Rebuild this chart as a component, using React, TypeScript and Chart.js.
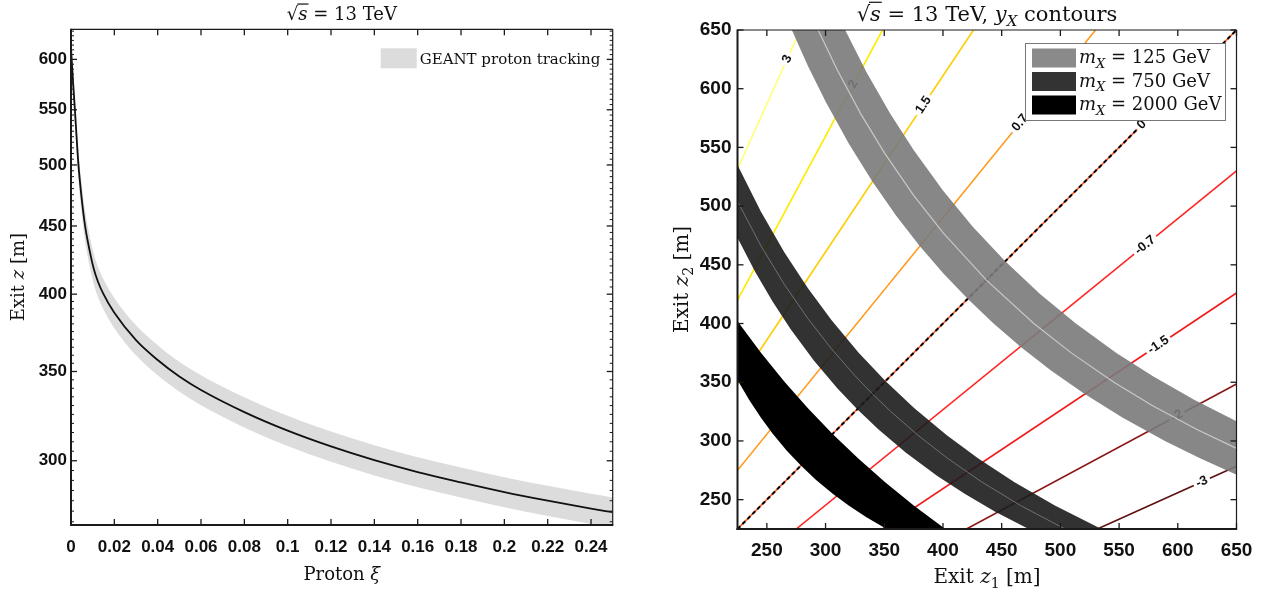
import React, { useEffect, useRef } from 'react';
import { Chart, registerables } from 'chart.js';
Chart.register(...registerables);

// ---------------- Left panel data ----------------
const xiValues = [0, 0.0003, 0.001, 0.0018, 0.0026, 0.0034, 0.0048, 0.0065, 0.0085, 0.0105, 0.0125, 0.015, 0.02, 0.03, 0.04, 0.05, 0.06, 0.08, 0.1, 0.12, 0.14, 0.16, 0.18, 0.2, 0.22, 0.24, 0.25];
const exitZ = [612, 600, 575, 550, 524, 501, 474, 450, 432, 418, 408.5, 400, 387.3, 369.5, 357, 347, 339, 326.3, 316, 307.5, 300.3, 294.2, 289, 284.2, 280, 276.2, 274.5];
const geantUpper = [627.9, 615.6, 590, 564.3, 537.6, 514, 486.3, 461.7, 443.2, 428.9, 419.1, 410.4, 397.4, 379.1, 366.3, 356, 347.8, 334.8, 324.2, 315.5, 308.1, 301.8, 296.5, 291.6, 287.3, 283.4, 281.6];
const geantLower = [596.1, 584.4, 560, 535.7, 510.4, 488, 461.7, 438.3, 420.8, 407.1, 397.9, 389.6, 377.2, 359.9, 347.7, 338, 330.2, 317.8, 307.8, 299.5, 292.5, 286.6, 281.5, 276.8, 272.7, 269, 267.4];
const leftXTicks = [0, 0.02, 0.04, 0.06, 0.08, 0.1, 0.12, 0.14, 0.16, 0.18, 0.2, 0.22, 0.24];
const leftXTickLabels = ['0', '0.02', '0.04', '0.06', '0.08', '0.1', '0.12', '0.14', '0.16', '0.18', '0.2', '0.22', '0.24'];
const leftYTicks = [300, 350, 400, 450, 500, 550, 600];
const leftYTickLabels = ['300', '350', '400', '450', '500', '550', '600'];

// ---------------- Right panel data ----------------
const rightTicks = [250, 300, 350, 400, 450, 500, 550, 600, 650];
const rightTickLabels = ['250', '300', '350', '400', '450', '500', '550', '600', '650'];
const contourLevels = ['3', '2', '1.5', '0.7', '0', '-0.7', '-1.5', '-2', '-3'];
const contourStartZ1 = [225, 225, 225, 225, 225, 275, 348.5, 420, 531.5];
const contourStartZ2 = [531.5, 420, 348.5, 275, 225, 225, 225, 225, 225];
const contourEndZ1 = [278.4, 348.5, 426, 530, 650, 650, 650, 650, 650];
const contourEndZ2 = [650, 650, 650, 650, 650, 530, 426, 348.5, 278.4];
const contourLabelZ1 = [267.3, 323.7, 383.4, 465.7, 569.4, 572.2, 583.5, 599.2, 620.5];
const contourColors = ['#ffff78', '#ffea00', '#ffcc00', '#ff9a1a', '#ff5a2a', '#ff2424', '#ee1a1a', '#8a1818', '#5c1010'];

const gray125OuterZ1 = [316.7, 335, 355, 375, 400, 425, 453, 482.9, 513.2, 547.7, 578.9, 613.9, 650];
const gray125OuterZ2 = [650, 613.9, 578.9, 547.7, 513.2, 482.9, 453, 425, 400, 375, 355, 335, 316.7];
const gray125InnerZ1 = [271.3, 285, 300, 320, 340, 360, 380, 400, 421, 443.1, 466.3, 492, 520.7, 552.8, 589, 619.4, 650];
const gray125InnerZ2 = [650, 619.4, 589, 552.8, 520.7, 492, 466.3, 443.1, 421, 400, 380, 360, 340, 320, 300, 285, 271.3];
const gray125CenterZ1 = [293.7, 310, 330, 350, 375, 400, 437, 477.4, 509.2, 545.6, 578.6, 615.9, 650];
const gray125CenterZ2 = [650, 615.9, 578.6, 545.6, 509.2, 477.4, 437, 400, 375, 350, 330, 310, 293.7];

const dark750OuterZ1 = [225, 245, 265, 285, 305, 328, 351, 375.4, 403, 430.1, 460.6, 495.3, 535];
const dark750OuterZ2 = [535, 495.3, 460.6, 430.1, 403, 375.4, 351, 328, 305, 285, 265, 245, 225];
const dark750InnerZ1 = [225, 240, 255, 270, 290, 310, 327, 344.9, 368.5, 395.5, 418.5, 444.1, 473];
const dark750InnerZ2 = [473, 444.1, 418.5, 395.5, 368.5, 344.9, 327, 310, 290, 270, 255, 240, 225];
const dark750CenterZ1 = [225, 245, 265, 285, 305, 325, 340, 355.6, 378.5, 404.2, 433.1, 466.1, 504];
const dark750CenterZ2 = [504, 466.1, 433.1, 404.2, 378.5, 355.6, 340, 325, 305, 285, 265, 245, 225];

const black2000OuterZ1 = [225, 245, 265, 285, 306, 327.9, 350.5, 375.1, 402];
const black2000OuterZ2 = [402, 375.1, 350.5, 327.9, 306, 285, 265, 245, 225];
const black2000InnerZ1 = [225, 235, 245, 255, 267, 279, 291.7, 306.1, 319.7, 334.8, 352];
const black2000InnerZ2 = [352, 334.8, 319.7, 306.1, 291.7, 279, 267, 255, 245, 235, 225];

const legendMasses = ['125', '750', '2000'];
const legendColors = ['#8a8a8a', '#333333', '#000000'];

// ---------------- helpers ----------------
type Seg = { t: string; it?: boolean; sub?: boolean; ov?: boolean };
const SERIF = '"DejaVu Serif", "Liberation Serif", serif';
const SANS = '"Liberation Sans", Arial, sans-serif';

function drawRich(ctx: CanvasRenderingContext2D, segs: Seg[], x: number, y: number, size: number, align: 'left' | 'center' | 'right' = 'center') {
  const fontOf = (s: Seg) => `${s.it ? 'italic ' : ''}${s.sub ? Math.round(size * 0.7) : size}px ${SERIF}`;
  let w = 0;
  for (const s of segs) { ctx.font = fontOf(s); w += ctx.measureText(s.t).width; }
  let cx = align === 'center' ? x - w / 2 : align === 'right' ? x - w : x;
  ctx.textAlign = 'left';
  ctx.textBaseline = 'alphabetic';
  for (const s of segs) {
    ctx.font = fontOf(s);
    const sw = ctx.measureText(s.t).width;
    const dy = s.sub ? size * 0.25 : 0;
    ctx.fillText(s.t, cx, y + dy);
    if (s.ov) ctx.fillRect(cx - 1, y - size * 0.92, sw + 2, 1.2);
    cx += sw;
  }
}

function seg(ctx: CanvasRenderingContext2D, x1: number, y1: number, x2: number, y2: number) {
  ctx.beginPath(); ctx.moveTo(x1, y1); ctx.lineTo(x2, y2); ctx.stroke();
}

function drawFrame(ctx: CanvasRenderingContext2D, a: any) {
  ctx.strokeStyle = '#1a1a1a';
  ctx.lineWidth = 1.2;
  seg(ctx, a.left, a.top, a.right, a.top);
  seg(ctx, a.right, a.top, a.right, a.bottom);
  ctx.lineWidth = 2;
  seg(ctx, a.left, a.top - 0.5, a.left, a.bottom + 1);
  seg(ctx, a.left - 1, a.bottom, a.right + 0.6, a.bottom);
}

const pts = (xs: number[], ys: number[]) => xs.map((x, i) => ({ x, y: ys[i] }));
const polygon = (oX: number[], oY: number[], iX: number[], iY: number[]) =>
  pts(oX, oY).concat(pts(iX, iY).reverse());

// ---------------- left chart ----------------
const leftDecor = {
  id: 'leftDecor',
  afterDraw(chart: any) {
    const { ctx, chartArea: a, scales } = chart;
    const xs = scales.x, ys = scales.y;
    ctx.save();
    drawFrame(ctx, a);
    ctx.strokeStyle = '#1a1a1a';
    ctx.lineWidth = 1.3;
    leftXTicks.forEach((v) => {
      const px = xs.getPixelForValue(v);
      seg(ctx, px, a.bottom, px, a.bottom - 6);
      seg(ctx, px, a.top, px, a.top + 6);
    });
    leftYTicks.forEach((v) => {
      const py = ys.getPixelForValue(v);
      seg(ctx, a.left, py, a.left + 6, py);
      seg(ctx, a.right, py, a.right - 6, py);
    });
    ctx.lineWidth = 1;
    for (let v = 270; v <= 630; v += 5) {
      if (v % 50 === 0) continue;
      const py = ys.getPixelForValue(v);
      seg(ctx, a.left, py, a.left + 3, py);
      seg(ctx, a.right, py, a.right - 3, py);
    }
    // tick labels
    ctx.fillStyle = '#111';
    ctx.font = `bold 17px ${SANS}`;
    ctx.textAlign = 'center';
    ctx.textBaseline = 'middle';
    leftXTicks.forEach((v, i) => ctx.fillText(leftXTickLabels[i], xs.getPixelForValue(v), a.bottom + 22));
    ctx.textAlign = 'right';
    leftYTicks.forEach((v, i) => ctx.fillText(leftYTickLabels[i], a.left - 4, ys.getPixelForValue(v)));
    // titles
    drawRich(ctx, [{ t: '√' }, { t: 's', it: true, ov: true }, { t: ' = 13 TeV' }], (a.left + a.right) / 2, 20, 18);
    drawRich(ctx, [{ t: 'Proton ' }, { t: 'ξ', it: true }], (a.left + a.right) / 2, a.bottom + 55, 18);
    ctx.save();
    ctx.translate(a.left - 47, (a.top + a.bottom) / 2);
    ctx.rotate(-Math.PI / 2);
    drawRich(ctx, [{ t: 'Exit ' }, { t: 'z', it: true }, { t: ' [m]' }], 0, 0, 18);
    ctx.restore();
    // legend
    ctx.fillStyle = '#dcdcdc';
    ctx.fillRect(a.right - 232, a.top + 19, 36, 20);
    ctx.fillStyle = '#111';
    drawRich(ctx, [{ t: 'GEANT proton tracking' }], a.right - 193, a.top + 35, 15, 'left');
    ctx.restore();
  },
};

function leftConfig(): any {
  return {
    type: 'line',
    data: {
      datasets: [
        { data: pts(xiValues, exitZ), borderColor: '#111', borderWidth: 1.8, pointRadius: 0, fill: false, cubicInterpolationMode: 'monotone', order: 0 },
        { data: pts(xiValues, geantUpper), borderWidth: 0, borderColor: 'rgba(0,0,0,0)', backgroundColor: '#dcdcdc', pointRadius: 0, fill: '+1', cubicInterpolationMode: 'monotone', order: 1 },
        { data: pts(xiValues, geantLower), borderWidth: 0, borderColor: 'rgba(0,0,0,0)', pointRadius: 0, fill: false, cubicInterpolationMode: 'monotone', order: 2 },
      ],
    },
    options: {
      responsive: false,
      animation: false,
      devicePixelRatio: 1,
      layout: { padding: { left: 71, right: 27.3, top: 29.3, bottom: 68 } },
      plugins: { legend: { display: false }, tooltip: { enabled: false } },
      scales: {
        x: { type: 'linear', min: 0, max: 0.25, display: false },
        y: { type: 'logarithmic', min: 268.5, max: 632, display: false },
      },
    },
    plugins: [leftDecor],
  };
}

// ---------------- right chart ----------------
const rightDecor = {
  id: 'rightDecor',
  afterDatasetDraw(chart: any, args: any) {
    if (!chart.data.datasets[args.index]._labelsAfter) return;
    const { ctx, chartArea: a, scales } = chart;
    const xs = scales.x, ys = scales.y;
    ctx.save();
    ctx.beginPath();
    ctx.rect(a.left, a.top, a.right - a.left, a.bottom - a.top);
    ctx.clip();
    ctx.font = `bold 13px ${SANS}`;
    ctx.textAlign = 'center';
    ctx.textBaseline = 'middle';
    contourLevels.forEach((lab, i) => {
      const x1 = xs.getPixelForValue(contourStartZ1[i]);
      const y1 = ys.getPixelForValue(contourStartZ2[i]);
      const x2 = xs.getPixelForValue(contourEndZ1[i]);
      const y2 = ys.getPixelForValue(contourEndZ2[i]);
      const t = (contourLabelZ1[i] - contourStartZ1[i]) / (contourEndZ1[i] - contourStartZ1[i]);
      const z2 = contourStartZ2[i] + t * (contourEndZ2[i] - contourStartZ2[i]);
      const px = xs.getPixelForValue(contourLabelZ1[i]);
      const py = ys.getPixelForValue(z2);
      const ang = Math.atan2(y2 - y1, x2 - x1);
      ctx.save();
      ctx.translate(px, py);
      ctx.rotate(ang);
      const w = ctx.measureText(lab).width;
      ctx.fillStyle = '#fff';
      ctx.fillRect(-w / 2 - 3, -7, w + 6, 14);
      ctx.fillStyle = '#111';
      ctx.fillText(lab, 0, 0);
      ctx.restore();
    });
    ctx.restore();
  },
  afterDraw(chart: any) {
    const { ctx, chartArea: a, scales } = chart;
    const xs = scales.x, ys = scales.y;
    ctx.save();
    drawFrame(ctx, a);
    ctx.strokeStyle = '#1a1a1a';
    ctx.lineWidth = 1.3;
    rightTicks.forEach((v) => {
      const px = xs.getPixelForValue(v);
      seg(ctx, px, a.bottom, px, a.bottom - 6);
      seg(ctx, px, a.top, px, a.top + 6);
      const py = ys.getPixelForValue(v);
      seg(ctx, a.left, py, a.left + 6, py);
      seg(ctx, a.right, py, a.right - 6, py);
    });
    ctx.fillStyle = '#111';
    ctx.font = `bold 19px ${SANS}`;
    ctx.textAlign = 'center';
    ctx.textBaseline = 'middle';
    rightTicks.forEach((v, i) => ctx.fillText(rightTickLabels[i], xs.getPixelForValue(v), a.bottom + 22));
    ctx.textAlign = 'right';
    rightTicks.forEach((v, i) => ctx.fillText(rightTickLabels[i], a.left - 6, ys.getPixelForValue(v)));
    // titles
    drawRich(ctx, [{ t: '√' }, { t: 's', it: true, ov: true }, { t: ' = 13 TeV, ' }, { t: 'y', it: true }, { t: 'X', it: true, sub: true }, { t: ' contours' }], (a.left + a.right) / 2, 21, 21);
    drawRich(ctx, [{ t: 'Exit ' }, { t: 'z', it: true }, { t: '1', sub: true }, { t: ' [m]' }], (a.left + a.right) / 2, a.bottom + 54, 20);
    ctx.save();
    ctx.translate(a.left - 50, (a.top + a.bottom) / 2);
    ctx.rotate(-Math.PI / 2);
    drawRich(ctx, [{ t: 'Exit ' }, { t: 'z', it: true }, { t: '2', sub: true }, { t: ' [m]' }], 0, 0, 20);
    ctx.restore();
    // legend
    const lx = a.right - 211.5, ly = a.top + 13, lw = 200, lh = 77;
    ctx.fillStyle = '#fff';
    ctx.fillRect(lx, ly, lw, lh);
    ctx.strokeStyle = '#777';
    ctx.lineWidth = 1;
    ctx.strokeRect(lx + 0.5, ly + 0.5, lw, lh);
    legendMasses.forEach((m, i) => {
      const cy = ly + 15 + i * 23.5;
      ctx.fillStyle = legendColors[i];
      ctx.fillRect(lx + 7, cy - 9.5, 44, 19);
      ctx.fillStyle = '#111';
      drawRich(ctx, [{ t: 'm', it: true }, { t: 'X', it: true, sub: true }, { t: ` = ${m} GeV` }], lx + 54, cy + 5, 18, 'left');
    });
    ctx.restore();
  },
};

function rightConfig(): any {
  const lineSets: any[] = [];
  // black dashes over the zero contour (drawn last among lines)
  lineSets.push({
    data: pts([contourStartZ1[4], contourEndZ1[4]], [contourStartZ2[4], contourEndZ2[4]]),
    borderColor: '#000', borderWidth: 2, borderDash: [4, 3], pointRadius: 0, fill: false, order: 5, _labelsAfter: true,
  });
  contourLevels.forEach((_, i) => {
    lineSets.push({
      data: pts([contourStartZ1[i], contourEndZ1[i]], [contourStartZ2[i], contourEndZ2[i]]),
      borderColor: contourColors[i], borderWidth: 1.6, pointRadius: 0, fill: false, order: 5,
    });
  });
  const bandSets = [
    { data: polygon(gray125OuterZ1, gray125OuterZ2, gray125InnerZ1, gray125InnerZ2), backgroundColor: 'rgba(122,122,122,0.9)', borderWidth: 0, borderColor: 'rgba(0,0,0,0)', pointRadius: 0, fill: 'shape', order: 4 },
    { data: pts(gray125CenterZ1, gray125CenterZ2), borderColor: '#c8c8c8', borderWidth: 1.2, pointRadius: 0, fill: false, order: 3 },
    { data: polygon(dark750OuterZ1, dark750OuterZ2, dark750InnerZ1, dark750InnerZ2), backgroundColor: 'rgba(28,28,28,0.9)', borderWidth: 0, borderColor: 'rgba(0,0,0,0)', pointRadius: 0, fill: 'shape', order: 2 },
    { data: pts(dark750CenterZ1, dark750CenterZ2), borderColor: '#707070', borderWidth: 1, pointRadius: 0, fill: false, order: 1 },
    { data: polygon(black2000OuterZ1, black2000OuterZ2, black2000InnerZ1, black2000InnerZ2), backgroundColor: '#000', borderWidth: 0, borderColor: 'rgba(0,0,0,0)', pointRadius: 0, fill: 'shape', order: 0 },
  ];
  return {
    type: 'line',
    data: { datasets: [...lineSets, ...bandSets] },
    options: {
      responsive: false,
      animation: false,
      devicePixelRatio: 1,
      layout: { padding: { left: 97.5, right: 42.5, top: 30, bottom: 64 } },
      plugins: { legend: { display: false }, tooltip: { enabled: false } },
      scales: {
        x: { type: 'linear', min: 225, max: 650, display: false },
        y: { type: 'linear', min: 225, max: 650, display: false },
      },
    },
    plugins: [rightDecor],
  };
}

export default function App() {
  const leftRef = useRef<HTMLCanvasElement>(null);
  const rightRef = useRef<HTMLCanvasElement>(null);
  useEffect(() => {
    const c1 = new Chart(leftRef.current as HTMLCanvasElement, leftConfig());
    const c2 = new Chart(rightRef.current as HTMLCanvasElement, rightConfig());
    return () => { c1.destroy(); c2.destroy(); };
  }, []);
  return (
    <div style={{ position: 'fixed', left: 0, top: 0, width: 1279, height: 593, background: '#fff' }}>
      <canvas ref={leftRef} width={640} height={593} style={{ position: 'absolute', left: 0, top: 0 }} />
      <canvas ref={rightRef} width={639} height={593} style={{ position: 'absolute', left: 640, top: 0 }} />
    </div>
  );
}
